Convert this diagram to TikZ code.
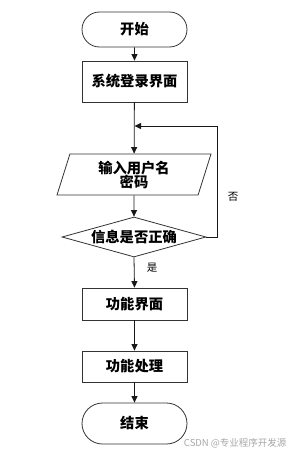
\documentclass[tikz,border=0pt]{standalone}
\usepackage{fontspec}
\newfontfamily\cjk{Noto Sans CJK SC}
\usetikzlibrary{shapes.geometric,shapes.misc,arrows.meta}
\begin{document}
\begin{tikzpicture}[x=1pt,y=-1pt,
  every node/.style={font=\cjk\bfseries\fontsize{14.3}{16}\selectfont, text=black},
  term/.style={draw=black!80, line width=0.8pt, rounded rectangle, minimum width=105pt, minimum height=35pt, inner sep=0pt},
  procbox/.style={draw=black!80, line width=0.8pt, rectangle, minimum width=105pt, inner sep=0pt},
  iobox/.style={draw=black!80, line width=0.8pt, trapezium, trapezium left angle=65, trapezium right angle=115, trapezium stretches body, minimum width=154pt, minimum height=41pt, inner sep=0pt, align=center},
  decbox/.style={draw=black!80, line width=0.8pt, diamond, aspect=3.6, minimum width=144pt, minimum height=40pt, inner sep=0pt},
  flow/.style={draw=black!90, line width=0.8pt, -{Triangle[length=6.5pt,width=6pt]}},
  lbl/.style={font=\cjk\fontsize{10.5}{12}\selectfont},
]
\useasboundingbox (0,0) rectangle (290,455);
\node[term] (start) at (134.5,29.5) {开始};
\node[procbox, minimum height=41pt] (login) at (134.5,81.5) {系统登录界面};
\coordinate (loopin) at (134.5,126);
\node[iobox] (input) at (134,174.5) {输入用户名\\[-2pt]密码};
\node[decbox] (check) at (134,237) {信息是否正确};
\node[procbox, minimum height=32pt] (func) at (134.5,304) {功能界面};
\node[procbox, minimum height=31pt] (proc) at (134.5,366.5) {功能处理};
\node[term, minimum height=41pt] (stop) at (134.5,423.5) {结束};
\coordinate (rt) at (217,237);
\coordinate (rtop) at (217,126);

\draw[flow] (start) -- (login);
\draw[flow] (login) -- (input);
\draw[flow] (input) -- (check);
\draw[flow] (check.south) -- (func.north);
\draw[flow] (func) -- (proc);
\draw[flow] (proc) -- (stop);
\draw[flow] (check.east) -- (rt) -- (rtop) -- (loopin);

\node[lbl] (no) at (233,197) {否};
\node[lbl] (yes) at (152,268) {是};
\node[anchor=east, font=\cjk\fontsize{9.5}{11}\selectfont, text=black!35] (wm) at (290,443) {CSDN @专业程序开发源};
\end{tikzpicture}
\end{document}
